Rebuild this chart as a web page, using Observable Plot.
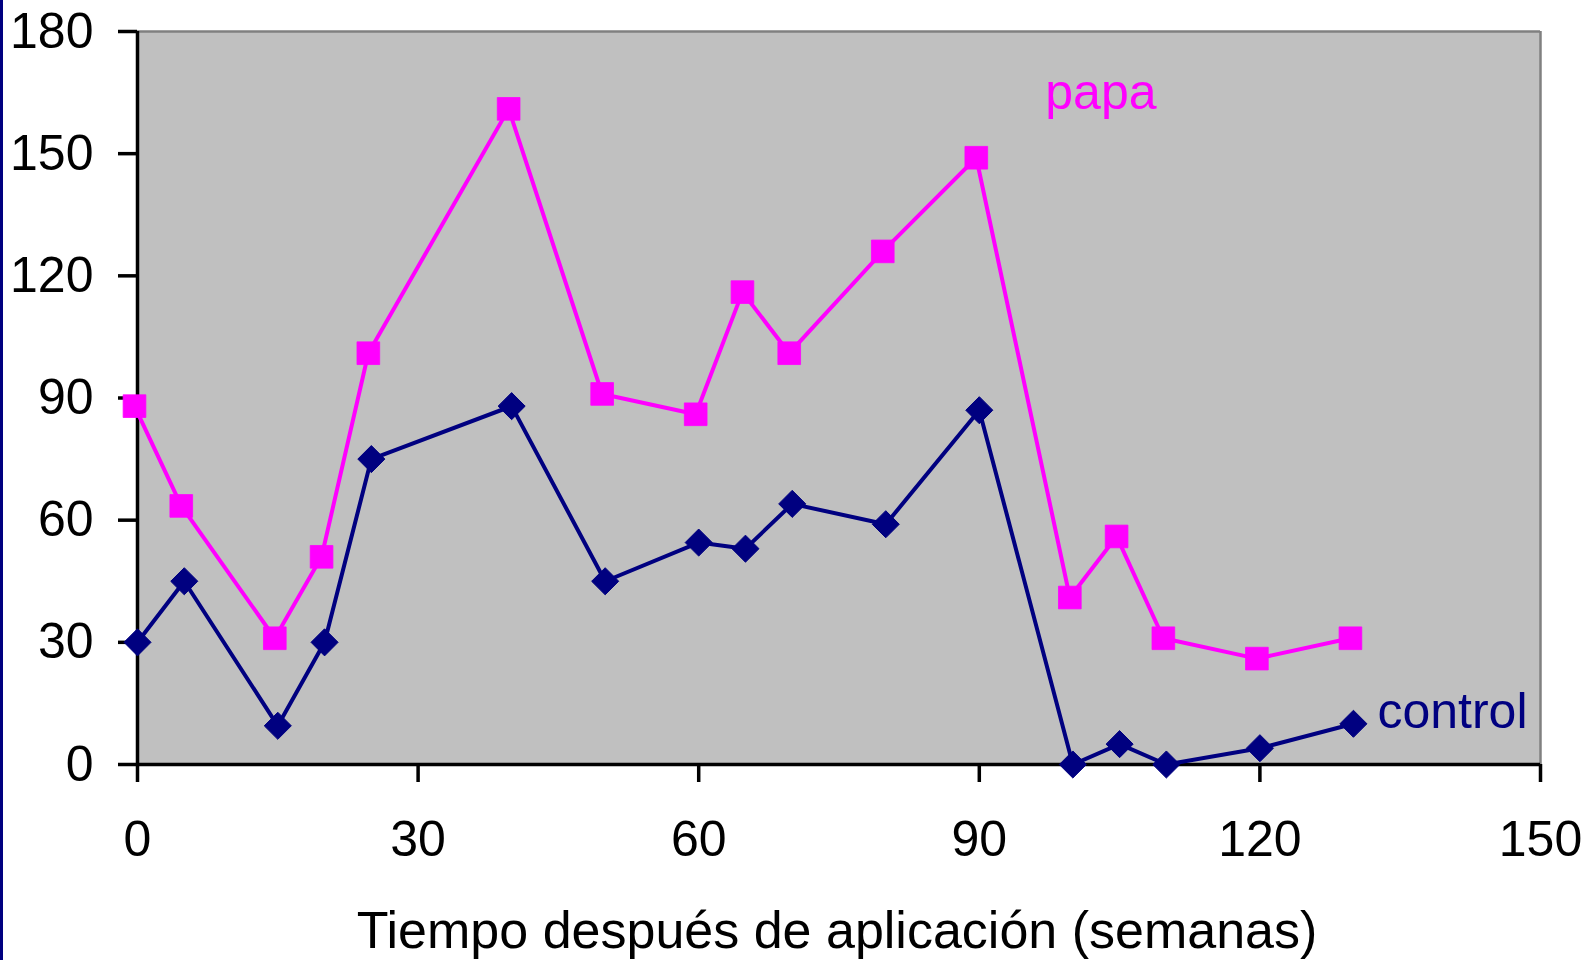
<!DOCTYPE html>
<html>
<head>
<meta charset="utf-8">
<script src="https://cdn.jsdelivr.net/npm/d3@7"></script>
<script src="https://cdn.jsdelivr.net/npm/@observablehq/plot@0.6"></script>
<style>
  html, body { margin: 0; padding: 0; background: #ffffff; }
  #wrap { position: relative; width: 1589px; height: 960px; overflow: hidden; }
  #edge { position: absolute; left: 0; top: 0; width: 3px; height: 960px; background: #000080; }
</style>
</head>
<body>
<div id="wrap"><div id="edge"></div></div>
<script>
// Weeks after application
const weeks = [0, 5, 15, 20, 25, 40, 50, 60, 65, 70, 80, 90, 100, 105, 110, 120, 130];
// Series values
const control = [30, 45, 9.5, 30, 75, 88, 45, 54.5, 53, 64, 59, 87, 0, 5, 0, 4, 10];
const papa = [88, 63.5, 31, 51, 101, 161, 91, 86, 116, 101, 126, 149, 41, 56, 31, 26, 31];
// Axis ticks
const xTicks = [0, 30, 60, 90, 120, 150];
const yTicks = [0, 30, 60, 90, 120, 150, 180];
const xTitle = "Tiempo después de aplicación (semanas)";

const controlData = weeks.map((w, i) => ({w, v: control[i]}));
const papaData = weeks.map((w, i) => ({w, v: papa[i]}));

const NAVY = "#000080";
const MAGENTA = "#ff00ff";

const chart = Plot.plot({
  width: 1589,
  height: 960,
  marginLeft: 137,
  marginRight: 49,
  marginTop: 31,
  marginBottom: 196,
  style: {fontFamily: "'Liberation Sans', Arial, sans-serif", background: "#ffffff", overflow: "visible", color: "#000"},
  x: {domain: [0, 150]},
  y: {domain: [0, 180]},
  marks: [
    Plot.frame({fill: "#c0c0c0", stroke: "none"}),
    Plot.ruleY([180], {stroke: "#808080", strokeWidth: 2.5}),
    Plot.ruleX([150], {stroke: "#808080", strokeWidth: 2.5}),
    Plot.axisY({ticks: yTicks, tickSize: 19, tickPadding: 25, fontSize: 50, strokeWidth: 3.5, stroke: "#000", fill: "#000", label: null}),
    Plot.axisX({ticks: xTicks, tickSize: 18, tickPadding: 38, fontSize: 50, strokeWidth: 3.5, stroke: "#000", fill: "#000", label: null}),
    Plot.ruleX([0], {stroke: "#000", strokeWidth: 3.5}),
    Plot.ruleY([0], {stroke: "#000", strokeWidth: 3.5}),
    Plot.line(papaData, {x: "w", y: "v", stroke: MAGENTA, strokeWidth: 4, dx: -3}),
    Plot.line(controlData, {x: "w", y: "v", stroke: NAVY, strokeWidth: 4}),
    Plot.dot(papaData, {x: "w", y: "v", symbol: "square", r: 12.8, fill: MAGENTA, stroke: MAGENTA, strokeWidth: 0.8, strokeLinejoin: "round", dx: -3}),
    Plot.dot(controlData, {x: "w", y: "v", symbol: "diamond2", r: 12.2, fill: NAVY, stroke: NAVY, strokeWidth: 1, strokeLinejoin: "round"}),
    Plot.text(["papa"], {x: 103, y: 165, fill: MAGENTA, fontSize: 50, textAnchor: "middle"}),
    Plot.text(controlData.slice(-1), {x: "w", y: "v", text: () => "control", fill: NAVY, fontSize: 50, textAnchor: "start", dx: 24, dy: -12}),
    Plot.text([xTitle], {frameAnchor: "bottom", lineAnchor: "middle", dx: -2, dy: 167, fontSize: 52, fill: "#000"})
  ]
});
document.getElementById("wrap").appendChild(chart);
</script>
</body>
</html>
